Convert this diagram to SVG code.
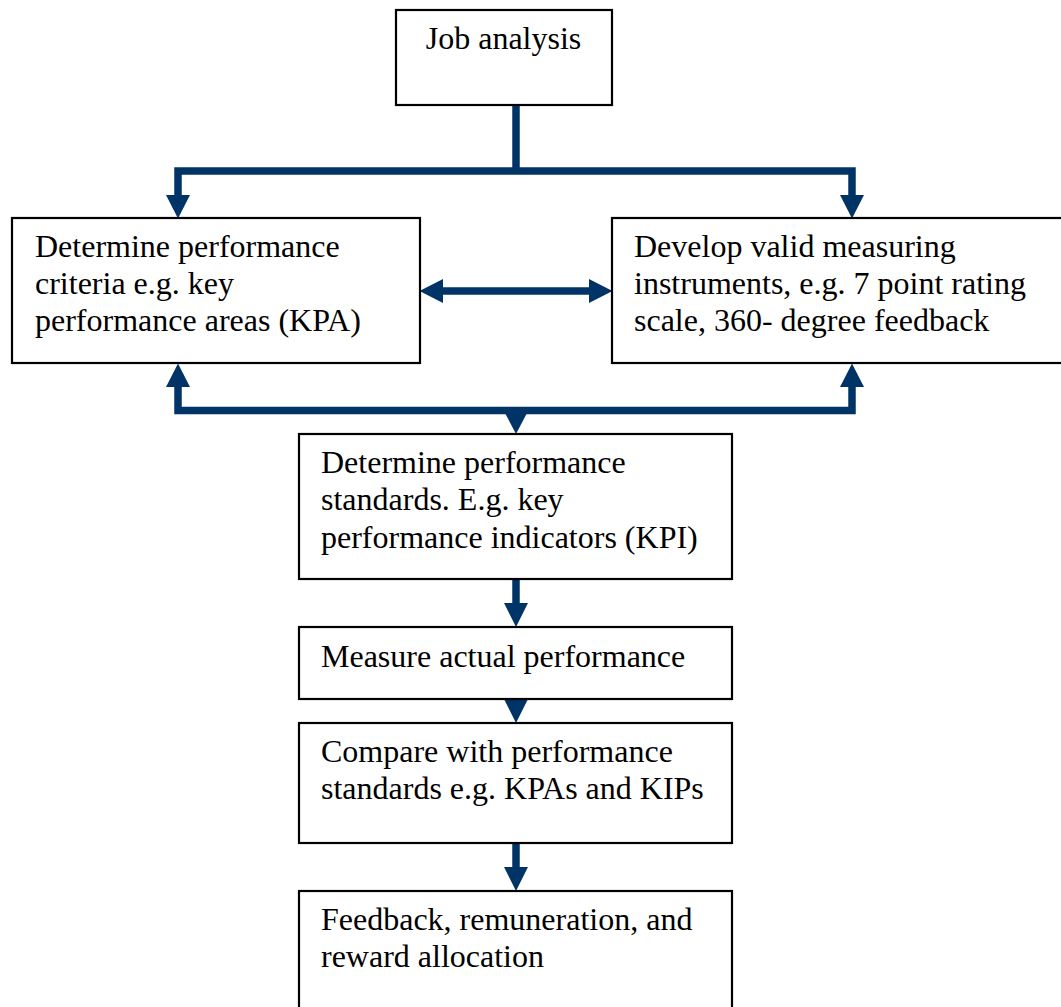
<svg xmlns="http://www.w3.org/2000/svg" width="1061" height="1007" viewBox="0 0 1061 1007">
<style>
.box{fill:#fff;stroke:#000;stroke-width:2.2}
.t{font-family:"Liberation Serif","Times New Roman",serif;font-size:32px;fill:#000}
.c{fill:none;stroke:#003466;stroke-width:7.5;stroke-linejoin:miter}
.h{fill:#003466}
</style>
<defs>
<marker id="ah" markerUnits="userSpaceOnUse" markerWidth="24" markerHeight="24" refX="0" refY="12" orient="auto-start-reverse" viewBox="0 0 24 24">
<path d="M0,0 L23.5,12 L0,24 z" fill="#003466"/>
</marker>
</defs>
<rect width="1061" height="1007" fill="#fff"/>
<g id="connectors">
<path class="c" d="M516,105 V171"/>
<path class="c" d="M178,195 V171 H852 V195" marker-start="url(#ah)" marker-end="url(#ah)"/>
<path class="c" d="M443,291 H589" marker-start="url(#ah)" marker-end="url(#ah)"/>
<path class="c" d="M178,387 V410.5 H852 V387" marker-start="url(#ah)" marker-end="url(#ah)"/>
<polygon class="h" points="505,413 527,413 516,434"/>
<path class="c" d="M516,579 V604"/>
<polygon class="h" points="504,603 528,603 516,627"/>
<polygon class="h" points="504,699 528,699 516,723"/>
<path class="c" d="M516,843 V868"/>
<polygon class="h" points="504,867 528,867 516,891"/>
</g>
<g id="job">
<rect class="box" x="396" y="10" width="216" height="95"/>
<text class="t" x="503.5" y="49" text-anchor="middle">Job analysis</text>
</g>
<g id="criteria">
<rect class="box" x="12" y="218" width="408" height="145"/>
<text class="t" x="35" y="257">Determine performance</text>
<text class="t" x="35" y="294">criteria e.g. key</text>
<text class="t" x="35" y="331">performance areas (KPA)</text>
</g>
<g id="instruments">
<rect class="box" x="612" y="218" width="470" height="145"/>
<text class="t" x="634" y="257">Develop valid measuring</text>
<text class="t" x="634" y="294">instruments, e.g. 7 point rating</text>
<text class="t" x="634" y="331">scale, 360- degree feedback</text>
</g>
<g id="standards">
<rect class="box" x="299" y="434" width="433" height="145"/>
<text class="t" x="321" y="473">Determine performance</text>
<text class="t" x="321" y="510">standards. E.g. key</text>
<text class="t" x="321" y="548">performance indicators (KPI)</text>
</g>
<g id="measure">
<rect class="box" x="299" y="627" width="433" height="72"/>
<text class="t" x="321" y="667">Measure actual performance</text>
</g>
<g id="compare">
<rect class="box" x="299" y="723" width="433" height="120"/>
<text class="t" x="321" y="762">Compare with performance</text>
<text class="t" x="321" y="799">standards e.g. KPAs and KIPs</text>
</g>
<g id="feedback">
<rect class="box" x="299" y="891" width="433" height="140"/>
<text class="t" x="321" y="930">Feedback, remuneration, and</text>
<text class="t" x="321" y="967">reward allocation</text>
</g>
</svg>
